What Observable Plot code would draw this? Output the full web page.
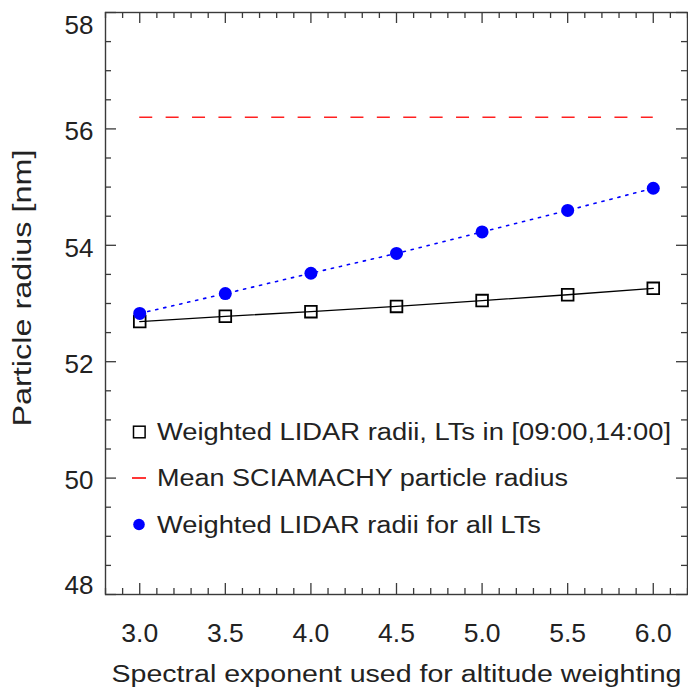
<!DOCTYPE html>
<html>
<head>
<meta charset="utf-8">
<script src="https://cdn.jsdelivr.net/npm/d3@7"></script>
<script src="https://cdn.jsdelivr.net/npm/@observablehq/plot@0.6"></script>
<style>
  html, body { margin: 0; padding: 0; background: #fff; }
  #wrap { position: relative; width: 688px; height: 691px; }
  #legend { position: absolute; left: 0; top: 0; pointer-events: none; }
</style>
</head>
<body>
<div id="wrap"></div>
<script>
// ---- data ----
const exponents = [3.0, 3.5, 4.0, 4.5, 5.0, 5.5, 6.0];
const lidarRadiiLT = [52.69, 52.78, 52.86, 52.95, 53.05, 53.15, 53.26];
const lidarRadiiAll = [52.83, 53.17, 53.52, 53.86, 54.23, 54.60, 54.98];
const sciamachyMean = 56.2;
const xTicks = [3.0, 3.5, 4.0, 4.5, 5.0, 5.5, 6.0];
const yTicks = [48, 50, 52, 54, 56, 58];
const legendLabels = [
  "Weighted LIDAR radii, LTs in [09:00,14:00]",
  "Mean SCIAMACHY particle radius",
  "Weighted LIDAR radii for all LTs"
];
const xLabel = "Spectral exponent used for altitude weighting";
const yLabel = "Particle radius [nm]";

const W = 688, H = 691;
const mL = 105, mR = 1, mT = 12, mB = 97;
const fw = W - mL - mR, fh = H - mT - mB;
const FONT = "Liberation Sans, Arial, Helvetica, sans-serif";
const TXT = "#222";

const lt = exponents.map((x, i) => ({x, y: lidarRadiiLT[i]}));
const all = exponents.map((x, i) => ({x, y: lidarRadiiAll[i]}));

const xMinor = d3.range(28, 63, 1).map(d => d / 10).filter(d => !xTicks.some(t => Math.abs(t - d) < 1e-9));
const yMinor = d3.range(96, 117, 1).map(d => d / 2).filter(d => !yTicks.includes(d));

const axisColor = "#3a3a3a";
const maj = 11, mn = 6;
const yLo = d3.min(yTicks), yHi = d3.max(yTicks);

const chart = Plot.plot({
  width: W, height: H,
  marginLeft: mL, marginRight: mR, marginTop: mT, marginBottom: mB,
  style: {fontFamily: FONT, color: TXT, background: "#fff"},
  x: {domain: [2.8, 6.2], axis: null},
  y: {domain: [48, 58], axis: null},
  marks: [
    // inward ticks on all four sides
    Plot.tickX(xTicks, {x: d => d, insetTop: fh - maj, stroke: axisColor, strokeWidth: 1.3}),
    Plot.tickX(xTicks, {x: d => d, insetBottom: fh - maj, stroke: axisColor, strokeWidth: 1.3}),
    Plot.tickX(xMinor, {x: d => d, insetTop: fh - mn, stroke: axisColor, strokeWidth: 1.3}),
    Plot.tickX(xMinor, {x: d => d, insetBottom: fh - mn, stroke: axisColor, strokeWidth: 1.3}),
    Plot.tickY(yTicks, {y: d => d, insetRight: fw - maj, stroke: axisColor, strokeWidth: 1.3}),
    Plot.tickY(yTicks, {y: d => d, insetLeft: fw - maj, stroke: axisColor, strokeWidth: 1.3}),
    Plot.tickY(yMinor, {y: d => d, insetRight: fw - mn, stroke: axisColor, strokeWidth: 1.3}),
    Plot.tickY(yMinor, {y: d => d, insetLeft: fw - mn, stroke: axisColor, strokeWidth: 1.3}),
    Plot.frame({stroke: axisColor, strokeWidth: 1.4}),
    // tick labels
    Plot.text(xTicks, {x: d => d, frameAnchor: "bottom", dy: 39.5, lineAnchor: "middle", text: d => d.toFixed(1), fontSize: 26.5, fill: TXT}),
    Plot.text(yTicks.filter(d => d > yLo && d < yHi), {y: d => d, frameAnchor: "left", dx: -12, dy: 3, textAnchor: "end", lineAnchor: "middle", text: d => String(d), fontSize: 26, fill: TXT}),
    Plot.text([yHi], {y: d => d, frameAnchor: "left", dx: -12, dy: 13, textAnchor: "end", lineAnchor: "middle", text: d => String(d), fontSize: 26, fill: TXT}),
    Plot.text([yLo], {y: d => d, frameAnchor: "left", dx: -12, dy: -9, textAnchor: "end", lineAnchor: "middle", text: d => String(d), fontSize: 26, fill: TXT}),
    // axis titles
    Plot.text([xLabel], {frameAnchor: "bottom", dy: 79.5, textAnchor: "middle", lineAnchor: "middle", text: d => d, fontSize: 23.5, fill: TXT}),
    Plot.text([yLabel], {frameAnchor: "left", dx: -82.5, dy: -15.5, rotate: -90, textAnchor: "middle", lineAnchor: "middle", text: d => d, fontSize: 26, fill: TXT}),
    // data
    Plot.ruleY([sciamachyMean], {x1: d3.min(exponents), x2: d3.max(exponents), stroke: "#ff2020", strokeWidth: 1.6, strokeDasharray: "13,13.4"}),
    Plot.line(all, {x: "x", y: "y", stroke: "#0000ff", strokeWidth: 1.6, strokeDasharray: "2.2,6"}),
    Plot.line(lt, {x: "x", y: "y", stroke: "#000", strokeWidth: 1.3}),
    Plot.dot(lt, {x: "x", y: "y", symbol: "square", r: 6.6, stroke: "#000", strokeWidth: 1.8, fill: "none"}),
    Plot.dot(all, {x: "x", y: "y", r: 6.5, fill: "#0000ff", stroke: "none"})
  ]
});

const wrap = document.getElementById("wrap");
wrap.appendChild(chart);

// stretch titles to the reference widths (wider glyphs, as in the reference font)
function fitText(content, len) {
  chart.querySelectorAll("text").forEach(t => {
    if (t.textContent === content) { t.setAttribute("textLength", len); t.setAttribute("lengthAdjust", "spacingAndGlyphs"); }
  });
}
fitText(xLabel, 570);
fitText(yLabel, 277);

// legend (inside the frame, lower left)
const legendWidths = [514, 411, 384];
const lg = d3.create("svg").attr("id", "legend").attr("width", W).attr("height", H)
  .style("font-family", FONT).style("font-size", "23.5px");
const rowY = [432, 478, 524.5];
legendLabels.forEach((label, i) => {
  const cy = rowY[i];
  if (i === 0) lg.append("rect").attr("x", 133.5).attr("y", cy - 5.8).attr("width", 11.6).attr("height", 11.6).attr("fill", "none").attr("stroke", "#000").attr("stroke-width", 1.5);
  if (i === 1) lg.append("line").attr("x1", 132).attr("x2", 146).attr("y1", cy).attr("y2", cy).attr("stroke", "#ff2020").attr("stroke-width", 1.8);
  if (i === 2) lg.append("circle").attr("cx", 139).attr("cy", cy).attr("r", 5.8).attr("fill", "#0000ff");
  lg.append("text").attr("x", 157).attr("y", cy + 8.3).attr("fill", TXT)
    .attr("textLength", legendWidths[i]).attr("lengthAdjust", "spacingAndGlyphs").text(label);
});
wrap.appendChild(lg.node());
</script>
</body>
</html>
